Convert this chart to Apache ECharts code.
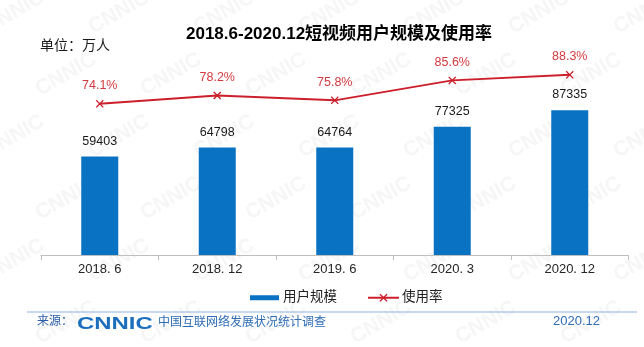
<!DOCTYPE html>
<html>
<head>
<meta charset="utf-8">
<script src="https://cdn.jsdelivr.net/npm/echarts@6/dist/echarts.min.js"></script>
<style>
html,body{margin:0;padding:0;background:#fff;}
#chart{width:644px;height:347px;}
</style>
</head>
<body>
<div id="chart"></div>
<script>
const categories = ['2018. 6', '2018. 12', '2019. 6', '2020. 3', '2020. 12'];
const userScale = [59403, 64798, 64764, 77325, 87335];
const usageRate = [74.1, 78.2, 75.8, 85.6, 88.3];

const FONT = "'Liberation Sans', Arial, 'Noto Sans CJK SC', sans-serif";
const XMARK = 'path://M0,1.2L1.2,0L5,3.8L8.8,0L10,1.2L6.2,5L10,8.8L8.8,10L5,6.2L1.2,10L0,8.8L3.8,5Z';

const chart = echarts.init(document.getElementById('chart'), null, {renderer: 'canvas'});

// faint watermark tiles
const watermarks = [];
for (let r = 0; r < 6; r++) {
  for (let c = 0; c < 7; c++) {
    watermarks.push({
      type: 'text', silent: true, z: -10,
      x: c * 105 + (r % 2) * 52 - 20, y: r * 62 + 20,
      rotation: Math.PI / 6,
      style: {text: 'CNNIC', fill: '#f6f6f6', font: "bold 21px 'Liberation Sans', Arial"}
    });
  }
}

chart.setOption({
  backgroundColor: '#ffffff',
  animation: false,
  title: {
    text: '2018.6-2020.12短视频用户规模及使用率',
    left: 181, top: 21,
    textStyle: {fontFamily: FONT, fontSize: 17, fontWeight: 'bold', color: '#000'}
  },
  legend: [
    {
      data: [{name: '用户规模', icon: 'rect'}],
      left: 245, top: 286, itemWidth: 29, itemHeight: 5, itemGap: 0,
      textStyle: {fontFamily: FONT, fontSize: 13.5, color: '#222', padding: [0, 0, 0, -1]}
    },
    {
      data: ['使用率'],
      left: 362, top: 286, itemWidth: 31, itemHeight: 10,
      textStyle: {fontFamily: FONT, fontSize: 13.5, color: '#222', padding: [0, 0, 0, -2]}
    }
  ],
  grid: {left: 41, width: 587.5, top: 51, height: 204, containLabel: false},
  xAxis: {
    type: 'category',
    data: categories,
    boundaryGap: true,
    axisLine: {lineStyle: {color: '#bfbfbf', width: 1}},
    axisTick: {show: true, length: 5, lineStyle: {color: '#bfbfbf'}},
    axisLabel: {margin: 8, fontFamily: FONT, fontSize: 13, color: '#262626'}
  },
  yAxis: [
    {type: 'value', min: 0, max: 123000, show: false, splitLine: {show: false}},
    {type: 'value', min: 0, max: 100, show: false, splitLine: {show: false}}
  ],
  series: [
    {
      name: '用户规模',
      type: 'bar',
      data: userScale,
      yAxisIndex: 0,
      barWidth: 37,
      itemStyle: {color: '#0a72c2'},
      label: {
        show: true, position: 'top', distance: 9,
        fontFamily: FONT, fontSize: 12.5, color: '#1a1a1a'
      }
    },
    {
      name: '使用率',
      type: 'line',
      data: usageRate,
      yAxisIndex: 1,
      symbol: XMARK,
      symbolSize: 8,
      lineStyle: {color: '#cc1f2b', width: 2},
      itemStyle: {color: '#cc1f2b'},
      label: {
        show: true, position: 'top', distance: 8,
        fontFamily: FONT, fontSize: 12.5, color: '#d23a3f',
        formatter: p => p.value.toFixed(1) + '%'
      }
    }
  ],
  graphic: watermarks.concat([
    {type: 'text', left: 40, top: 39,
     style: {text: '单位：万人', fill: '#1a1a1a', font: "14px 'Liberation Sans', 'Noto Sans CJK SC'"}},
    {type: 'line', shape: {x1: 27, y1: 312, x2: 637, y2: 312},
     style: {stroke: '#8db3e2', lineWidth: 1}},
    {type: 'text', left: 37, top: 316,
     style: {text: '来源：', fill: '#2a5ca8', font: "12px 'Liberation Sans', 'Noto Sans CJK SC'"}},
    {type: 'text', x: 77, y: 316, scaleX: 1.45,
     style: {text: 'CNNIC', fill: '#1d6fbe', font: "900 16.5px 'Liberation Sans', Arial", textVerticalAlign: 'top'}},
    {type: 'text', left: 158, top: 315,
     style: {text: '中国互联网络发展状况统计调查', fill: '#2f6db5', font: "12px 'Noto Sans CJK SC'"}},
    {type: 'text', left: 553, top: 315,
     style: {text: '2020.12', fill: '#2f6db5', font: "13px 'Liberation Sans', Arial"}}
  ])
});
</script>
</body>
</html>
